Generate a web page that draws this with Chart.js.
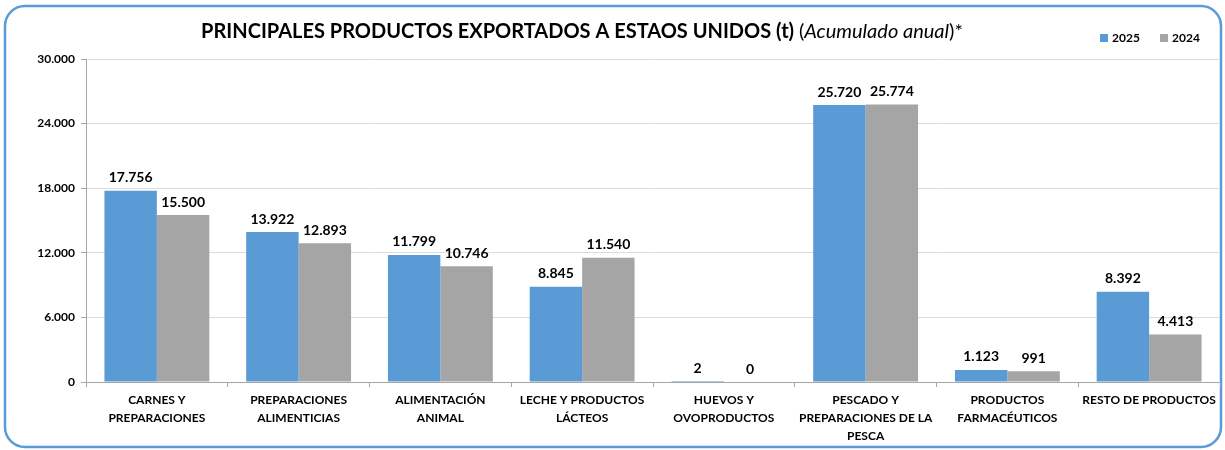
<!DOCTYPE html>
<html>
<head>
<meta charset="utf-8">
<script src="https://cdn.jsdelivr.net/npm/chart.js@4.4.1/dist/chart.umd.min.js"></script>
<style>
  html, body { margin: 0; padding: 0; background: #fff; }
  #wrap { position: relative; width: 1225px; height: 450px; }
</style>
</head>
<body>
<div id="wrap"><canvas id="chart1" width="1225" height="450"></canvas></div>
<script>
// categories and values
var categories = [
  ['CARNES Y', 'PREPARACIONES'],
  ['PREPARACIONES', 'ALIMENTICIAS'],
  ['ALIMENTACIÓN', 'ANIMAL'],
  ['LECHE Y PRODUCTOS', 'LÁCTEOS'],
  ['HUEVOS Y', 'OVOPRODUCTOS'],
  ['PESCADO Y', 'PREPARACIONES DE LA', 'PESCA'],
  ['PRODUCTOS', 'FARMACÉUTICOS'],
  ['RESTO DE PRODUCTOS']
];
var values2025 = [17756, 13922, 11799, 8845, 2, 25720, 1123, 8392];
var values2024 = [15500, 12893, 10746, 11540, 0, 25774, 991, 4413];
var yTicks = [0, 6000, 12000, 18000, 24000, 30000];

var FONT = 'Lato, "Open Sans", sans-serif';

function fmt(v) {
  return String(v).replace(/\B(?=(\d{3})+(?!\d))/g, '.');
}

// frame, title and legend
var decoPlugin = {
  id: 'deco',
  beforeDraw: function(chart) {
    var ctx = chart.ctx;
    ctx.save();
    ctx.fillStyle = '#fff';
    ctx.fillRect(0, 0, chart.width, chart.height);
    ctx.strokeStyle = '#5b9bd5';
    ctx.lineWidth = 2.5;
    ctx.beginPath();
    ctx.roundRect(5, 6, 1216, 441, 20);
    ctx.stroke();
    ctx.restore();
  },
  afterDraw: function(chart) {
    var ctx = chart.ctx;
    ctx.save();
    ctx.textBaseline = 'middle';
    ctx.fillStyle = '#000';
    var y = 32;
    var p1 = 'PRINCIPALES PRODUCTOS EXPORTADOS A ESTAOS UNIDOS (t) ';
    var p2 = '(';
    var p3 = 'Acumulado anual';
    var p4 = ')*';
    ctx.font = 'bold 20px ' + FONT;
    var w1 = ctx.measureText(p1).width;
    ctx.font = '20px ' + FONT;
    var w2 = ctx.measureText(p2).width;
    var w4 = ctx.measureText(p4).width;
    ctx.font = 'italic 20px ' + FONT;
    var w3 = ctx.measureText(p3).width;
    var x = 582 - (w1 + w2 + w3 + w4) / 2;
    ctx.textAlign = 'left';
    ctx.font = 'bold 20px ' + FONT;
    ctx.fillText(p1, x, y); x += w1;
    ctx.font = '20px ' + FONT;
    ctx.fillText(p2, x, y); x += w2;
    ctx.font = 'italic 20px ' + FONT;
    ctx.fillText(p3, x, y); x += w3;
    ctx.font = '20px ' + FONT;
    ctx.fillText(p4, x, y);

    // legend
    ctx.font = 'bold 12px ' + FONT;
    var items = [['2025', '#5b9bd5', 1100], ['2024', '#a5a5a5', 1160]];
    items.forEach(function(it) {
      ctx.fillStyle = it[1];
      ctx.fillRect(it[2], 34, 8, 8);
      ctx.fillStyle = '#000';
      ctx.fillText(it[0], it[2] + 12, 38.5);
    });
    ctx.restore();

    // value labels above bars
    ctx.save();
    ctx.font = 'bold 14px ' + FONT;
    ctx.fillStyle = '#000';
    ctx.textAlign = 'center';
    ctx.textBaseline = 'bottom';
    chart.data.datasets.forEach(function(ds, i) {
      var meta = chart.getDatasetMeta(i);
      meta.data.forEach(function(bar, j) {
        ctx.fillText(fmt(ds.data[j]), bar.x, bar.y - 6);
      });
    });
    ctx.restore();
  }
};

const ctx = document.getElementById('chart1');
new Chart(ctx, {
  type: 'bar',
  data: {
    labels: categories,
    datasets: [{
      label: '2025',
      data: values2025,
      backgroundColor: '#5b9bd5',
      borderWidth: 0,
      categoryPercentage: 0.74,
      barPercentage: 1.0
    }, {
      label: '2024',
      data: values2024,
      backgroundColor: '#a5a5a5',
      borderWidth: 0,
      categoryPercentage: 0.74,
      barPercentage: 1.0
    }]
  },
  options: {
    responsive: false,
    animation: false,
    layout: { padding: { top: 59, right: 5, left: 0, bottom: 0 } },
    plugins: {
      legend: { display: false },
      title: { display: false },
      tooltip: { enabled: false }
    },
    scales: {
      x: {
        grid: { offset: true, drawOnChartArea: false, color: '#a6a6a6', tickLength: 5 },
        border: { color: '#a6a6a6' },
        ticks: {
          color: '#000',
          font: { family: FONT, size: 12, weight: 'bold', lineHeight: 1.5 },
          maxRotation: 0,
          autoSkip: false,
          padding: 4
        },
        afterFit: function(s) { s.height = 68; }
      },
      y: {
        min: 0,
        max: 30000,
        afterBuildTicks: function(s) { s.ticks = yTicks.map(function(v) { return { value: v }; }); },
        grid: { color: '#dcdcdc', tickLength: 5, tickColor: '#a6a6a6' },
        border: { color: '#a6a6a6' },
        ticks: {
          color: '#000',
          font: { family: FONT, size: 12, weight: 'bold' },
          padding: 6,
          callback: function(v) { return fmt(v); }
        },
        afterFit: function(s) { s.width = 86; }
      }
    }
  },
  plugins: [decoPlugin]
});
</script>
</body>
</html>
